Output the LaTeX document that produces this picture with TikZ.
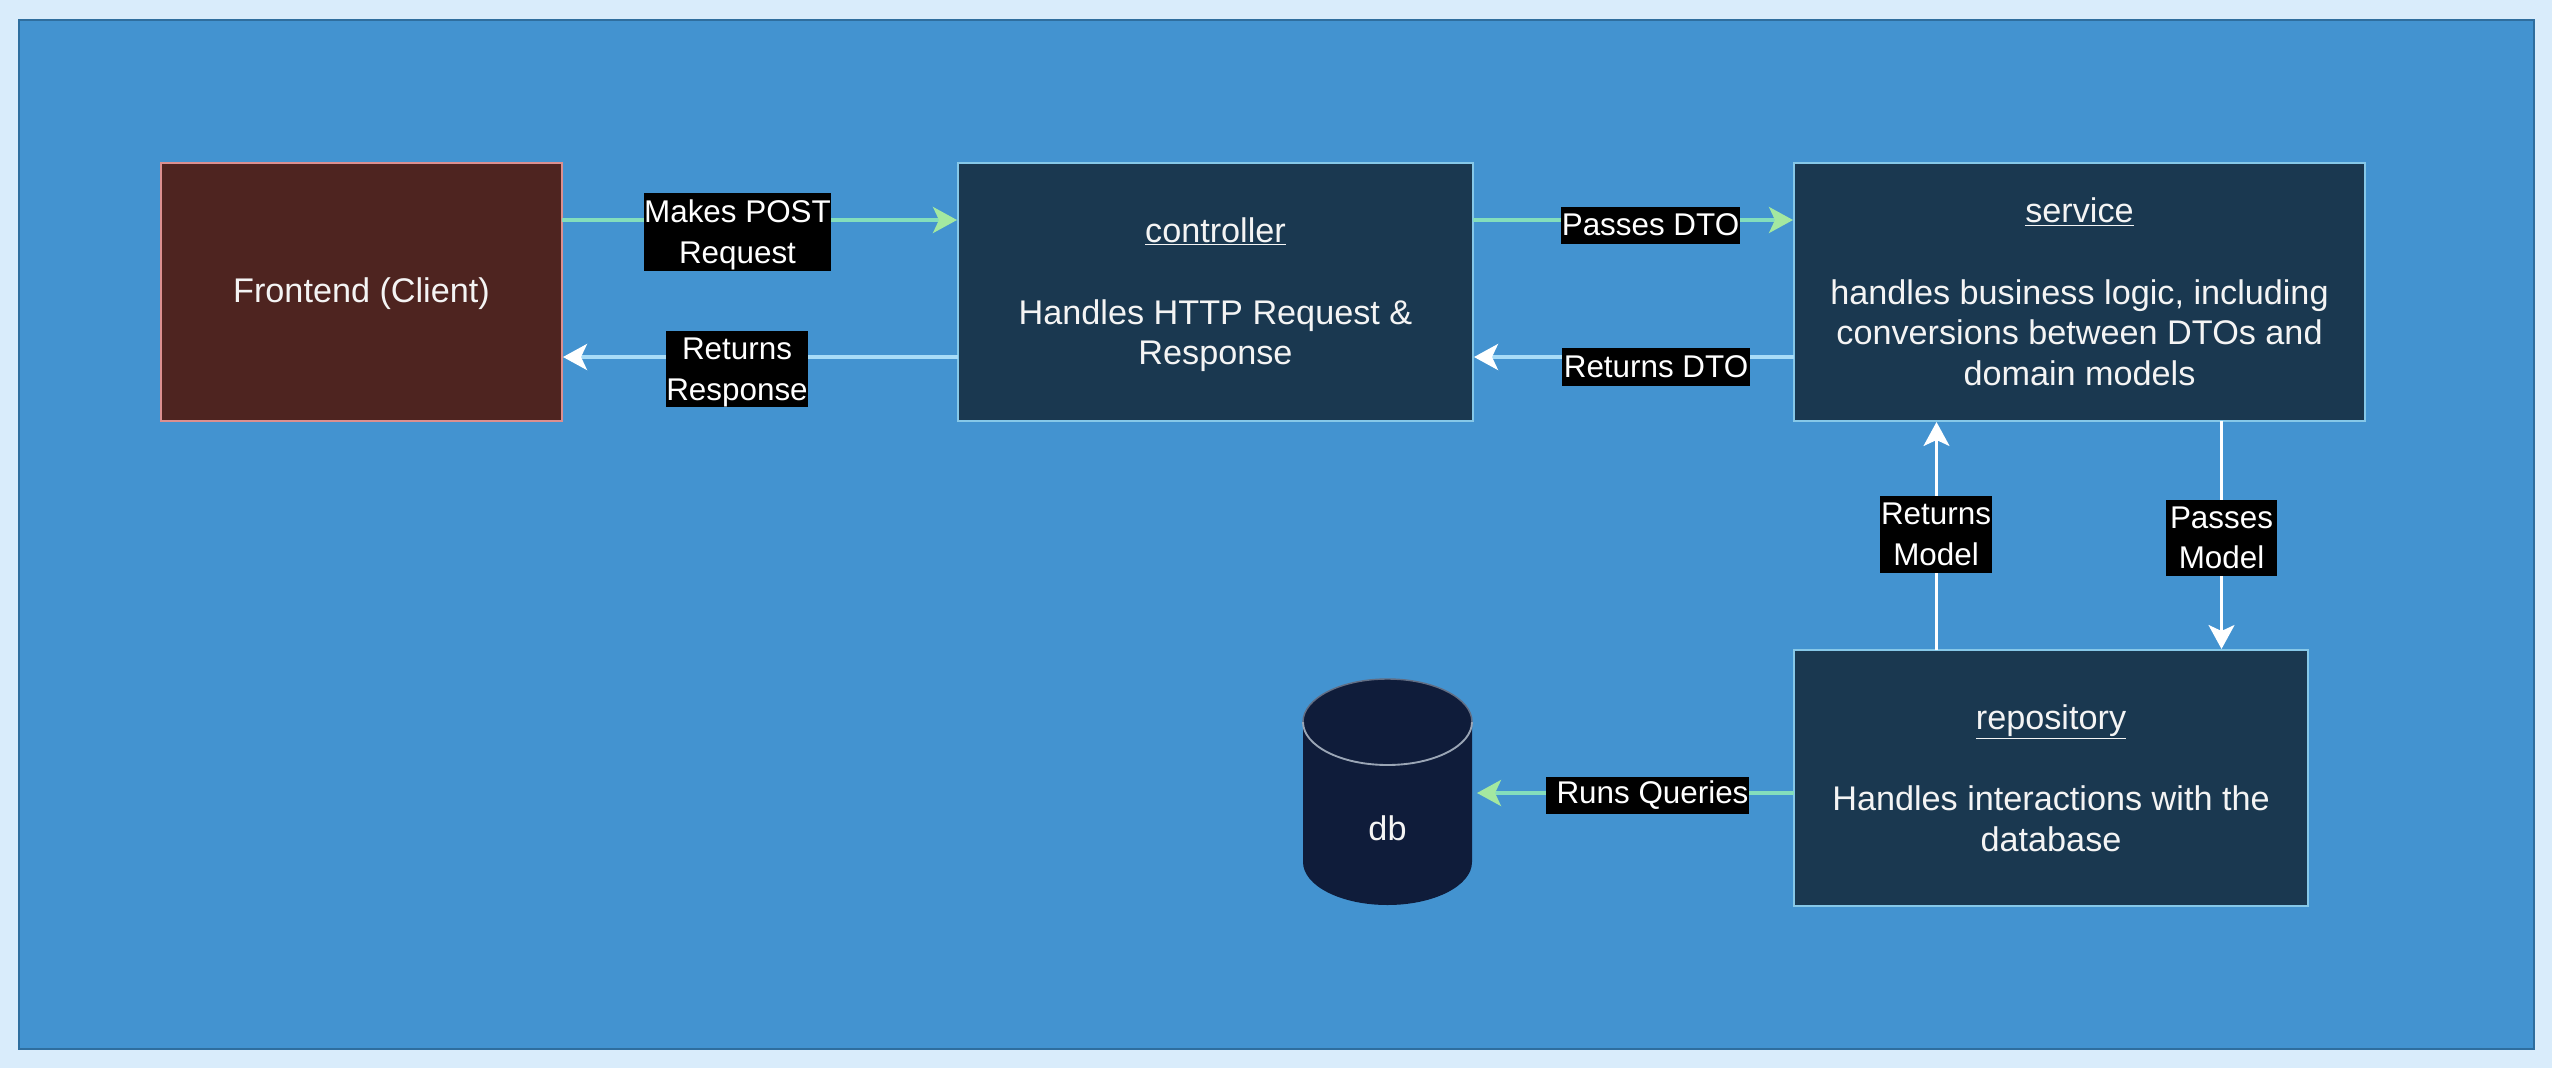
\documentclass[tikz,border=0pt]{standalone}
\usepackage{fontspec}
\setmainfont{Liberation Sans}
\usetikzlibrary{arrows.meta,calc}
\definecolor{outerbg}{HTML}{D9ECFB}
\definecolor{innerbg}{HTML}{4393D0}
\definecolor{innerln}{HTML}{2F6E9E}
\definecolor{boxfill}{HTML}{1A3850}
\definecolor{boxln}{HTML}{86C8E8}
\definecolor{frontfill}{HTML}{4E2420}
\definecolor{frontln}{HTML}{DC8F8F}
\definecolor{dbfill}{HTML}{0F1C3A}
\definecolor{dbln}{HTML}{9AA5B5}
\definecolor{greenln}{HTML}{84DEBC}
\definecolor{greenhd}{HTML}{A4E8A0}
\definecolor{blueln}{HTML}{A8DCF8}
\definecolor{txt}{HTML}{F4F4F4}
\tikzset{
  x=0.03cm,y=-0.03cm,
  every node/.style={font=\fontsize{29.2}{34.7}\selectfont,text=txt,align=center,inner sep=0pt,outer sep=0pt},
  boxb/.style={draw=boxln,fill=boxfill,line width=2pt},
  boxf/.style={draw=frontln,fill=frontfill,line width=2pt},
  lbl/.style={fill=black,text=white,font=\fontsize{26.8}{34.7}\selectfont},
  gr/.style={draw=greenln,line width=3pt,-{Stealth[length=24*0.03cm,width=26*0.03cm,inset=6*0.03cm,color=greenhd]}},
  wh/.style={draw=blueln,line width=3pt,-{Stealth[length=24*0.03cm,width=26*0.03cm,inset=6*0.03cm,color=white]}},
  wv/.style={draw=white,line width=2.2pt,-{Stealth[length=24*0.03cm,width=26*0.03cm,inset=6*0.03cm,color=white]}},
}
\begin{document}
\begin{tikzpicture}
\useasboundingbox (0,0) rectangle (2552,1068);
\fill[outerbg] (0,0) rectangle (2552,1068);
\draw[innerln,fill=innerbg,line width=2pt] (19,20) rectangle (2534,1049);

\node[boxf,minimum width=401*0.03cm,minimum height=258*0.03cm] (front) at (361.5,292) {\rule{0pt}{24pt}Frontend (Client)};
\node[boxb,minimum width=515*0.03cm,minimum height=258*0.03cm] (ctrl) at (1215.5,292) {\rule{0pt}{26pt}\underline{controller}\\ \mbox{}\\ Handles HTTP Request \&\\ Response};
\node[boxb,minimum width=571*0.03cm,minimum height=258*0.03cm] (serv) at (2079.5,292) {\underline{service}\\ \mbox{}\\ handles business logic, including\\ conversions between DTOs and\\ domain models};
\node[boxb,minimum width=514*0.03cm,minimum height=256*0.03cm] (repo) at (2051,778) {\underline{repository}\\ \mbox{}\\ Handles interactions with the\\ database};

% database cylinder
\fill[dbfill] (1303,722) arc[start angle=180,end angle=360,x radius=84.5,y radius=43] -- (1472,862) arc[start angle=0,end angle=180,x radius=84.5,y radius=43] -- cycle;
\draw[dbln,line width=1.6pt] (1303,722) arc[start angle=180,end angle=0,x radius=84.5,y radius=43];
\draw[dbln!60!dbfill,line width=1.2pt] (1303,722) arc[start angle=180,end angle=360,x radius=84.5,y radius=43];
\node[minimum width=169*0.03cm,minimum height=124*0.03cm] (db) at (1387.5,828) {db};

% connectors
\draw[gr] ([shift={(0,-72)}]front.east) -- ([shift={(-1,-72)}]ctrl.west);
\draw[wh] ([shift={(0,65)}]ctrl.west) -- ([shift={(1,65)}]front.east);
\draw[gr] ([shift={(0,-72)}]ctrl.east) -- ([shift={(-1,-72)}]serv.west);
\draw[wh] ([shift={(0,65)}]serv.west) -- ([shift={(1,65)}]ctrl.east);
\draw[wv] ([shift={(-143,0)}]serv.south |- repo.north) -- ([shift={(-143,1)}]serv.south);
\draw[wv] ([shift={(142,0)}]serv.south) -- ([shift={(142,-1)}]serv.south |- repo.north);
\draw[gr] ([shift={(0,15)}]repo.west) -- ([shift={(5,-35)}]db.east);

% connector labels
\node[lbl,minimum width=185*0.03cm,minimum height=78*0.03cm] (l1) at (737.5,232) {\rule{0pt}{24.5pt}Makes POST\\ Request};
\node[lbl,minimum width=140*0.03cm,minimum height=76*0.03cm] (l2) at (737,369) {\rule{0pt}{24.5pt}Returns\\ Response};
\node[lbl,minimum width=179*0.03cm,minimum height=37*0.03cm] (l3) at (1650.5,225) {Passes DTO};
\node[lbl,minimum width=188*0.03cm,minimum height=38*0.03cm] (l4) at (1656,367) {Returns DTO};
\node[lbl,minimum width=112*0.03cm,minimum height=77*0.03cm] (l5) at (1936,534.5) {Returns\\ Model};
\node[lbl,minimum width=111*0.03cm,minimum height=76*0.03cm] (l6) at (2221.5,538) {Passes\\ Model};
\node[lbl,minimum width=203*0.03cm,minimum height=37*0.03cm] (l7) at (1647.5,795.5) {\hspace{8.5pt}Runs Queries};
\end{tikzpicture}
\end{document}
